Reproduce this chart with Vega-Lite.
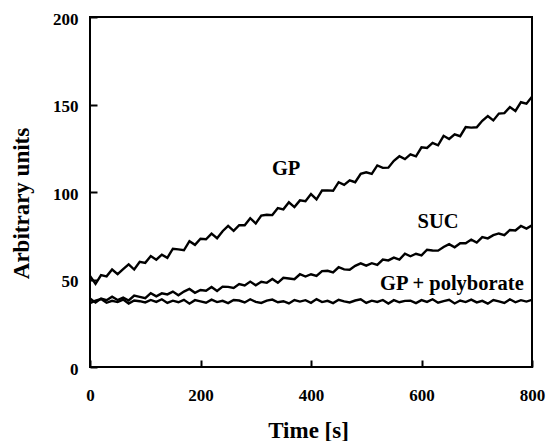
{
  "$schema": "https://vega.github.io/schema/vega-lite/v6.json",
  "width": 442,
  "height": 350,
  "autosize": "none",
  "padding": {"left": 90, "top": 17, "right": 14, "bottom": 74},
  "background": "white",
  "config": {
    "font": "Liberation Serif",
    "view": {"stroke": "black", "strokeWidth": 2}
  },
  "layer": [
    {
      "data": {
        "values": [
          {"t": 0, "GP": 52.0, "SUC": 39.1, "PB": 36.5},
          {"t": 10, "GP": 47.5, "SUC": 36.8, "PB": 37.9},
          {"t": 20, "GP": 52.5, "SUC": 39.1, "PB": 38.8},
          {"t": 30, "GP": 51.8, "SUC": 38.2, "PB": 36.7},
          {"t": 40, "GP": 55.7, "SUC": 40.2, "PB": 37.8},
          {"t": 50, "GP": 53.1, "SUC": 38.3, "PB": 37.1},
          {"t": 60, "GP": 55.9, "SUC": 39.7, "PB": 38.5},
          {"t": 70, "GP": 58.6, "SUC": 38.0, "PB": 36.3},
          {"t": 80, "GP": 55.7, "SUC": 40.8, "PB": 38.0},
          {"t": 90, "GP": 60.1, "SUC": 40.1, "PB": 37.6},
          {"t": 100, "GP": 59.5, "SUC": 39.3, "PB": 36.9},
          {"t": 110, "GP": 63.4, "SUC": 42.2, "PB": 38.3},
          {"t": 120, "GP": 61.3, "SUC": 40.4, "PB": 37.2},
          {"t": 130, "GP": 64.2, "SUC": 42.1, "PB": 38.7},
          {"t": 140, "GP": 62.4, "SUC": 41.5, "PB": 36.6},
          {"t": 150, "GP": 67.6, "SUC": 43.1, "PB": 37.9},
          {"t": 160, "GP": 67.2, "SUC": 41.0, "PB": 37.0},
          {"t": 170, "GP": 66.7, "SUC": 43.1, "PB": 38.4},
          {"t": 180, "GP": 71.9, "SUC": 44.6, "PB": 36.2},
          {"t": 190, "GP": 69.8, "SUC": 42.4, "PB": 38.2},
          {"t": 200, "GP": 73.3, "SUC": 44.0, "PB": 37.5},
          {"t": 210, "GP": 73.0, "SUC": 43.6, "PB": 36.7},
          {"t": 220, "GP": 76.2, "SUC": 45.7, "PB": 38.5},
          {"t": 230, "GP": 73.6, "SUC": 43.4, "PB": 37.1},
          {"t": 240, "GP": 77.6, "SUC": 45.9, "PB": 37.8},
          {"t": 250, "GP": 80.6, "SUC": 45.8, "PB": 36.5},
          {"t": 260, "GP": 77.8, "SUC": 45.2, "PB": 38.3},
          {"t": 270, "GP": 81.0, "SUC": 47.4, "PB": 38.0},
          {"t": 280, "GP": 81.0, "SUC": 46.6, "PB": 36.9},
          {"t": 290, "GP": 85.0, "SUC": 48.8, "PB": 38.7},
          {"t": 300, "GP": 82.0, "SUC": 46.7, "PB": 37.2},
          {"t": 310, "GP": 86.5, "SUC": 48.7, "PB": 36.6},
          {"t": 320, "GP": 87.0, "SUC": 48.1, "PB": 37.9},
          {"t": 330, "GP": 86.8, "SUC": 50.3, "PB": 38.5},
          {"t": 340, "GP": 90.8, "SUC": 48.1, "PB": 37.0},
          {"t": 350, "GP": 90.1, "SUC": 51.0, "PB": 37.6},
          {"t": 360, "GP": 94.1, "SUC": 50.6, "PB": 36.3},
          {"t": 370, "GP": 91.4, "SUC": 50.2, "PB": 38.3},
          {"t": 380, "GP": 95.2, "SUC": 53.0, "PB": 37.4},
          {"t": 390, "GP": 94.7, "SUC": 51.7, "PB": 38.2},
          {"t": 400, "GP": 98.8, "SUC": 53.0, "PB": 36.7},
          {"t": 410, "GP": 95.8, "SUC": 52.0, "PB": 38.8},
          {"t": 420, "GP": 100.9, "SUC": 54.8, "PB": 37.1},
          {"t": 430, "GP": 100.9, "SUC": 55.0, "PB": 37.8},
          {"t": 440, "GP": 100.7, "SUC": 54.1, "PB": 36.5},
          {"t": 450, "GP": 105.6, "SUC": 57.0, "PB": 38.4},
          {"t": 460, "GP": 104.1, "SUC": 55.8, "PB": 37.5},
          {"t": 470, "GP": 106.7, "SUC": 55.6, "PB": 36.9},
          {"t": 480, "GP": 105.6, "SUC": 57.8, "PB": 38.0},
          {"t": 490, "GP": 110.4, "SUC": 59.2, "PB": 38.7},
          {"t": 500, "GP": 111.3, "SUC": 57.9, "PB": 36.6},
          {"t": 510, "GP": 110.4, "SUC": 59.3, "PB": 37.9},
          {"t": 520, "GP": 115.2, "SUC": 58.3, "PB": 37.2},
          {"t": 530, "GP": 113.8, "SUC": 61.4, "PB": 38.3},
          {"t": 540, "GP": 113.9, "SUC": 60.9, "PB": 36.3},
          {"t": 550, "GP": 117.8, "SUC": 62.5, "PB": 38.2},
          {"t": 560, "GP": 120.4, "SUC": 61.4, "PB": 37.0},
          {"t": 570, "GP": 118.8, "SUC": 64.7, "PB": 37.8},
          {"t": 580, "GP": 121.5, "SUC": 63.3, "PB": 37.9},
          {"t": 590, "GP": 120.4, "SUC": 64.7, "PB": 36.5},
          {"t": 600, "GP": 125.5, "SUC": 63.8, "PB": 38.2},
          {"t": 610, "GP": 125.2, "SUC": 67.0, "PB": 37.2},
          {"t": 620, "GP": 128.1, "SUC": 66.6, "PB": 38.7},
          {"t": 630, "GP": 126.7, "SUC": 66.5, "PB": 36.7},
          {"t": 640, "GP": 132.1, "SUC": 68.6, "PB": 37.6},
          {"t": 650, "GP": 130.3, "SUC": 70.2, "PB": 38.4},
          {"t": 660, "GP": 133.0, "SUC": 68.4, "PB": 36.3},
          {"t": 670, "GP": 131.9, "SUC": 70.7, "PB": 38.0},
          {"t": 680, "GP": 137.1, "SUC": 70.7, "PB": 37.1},
          {"t": 690, "GP": 136.8, "SUC": 72.8, "PB": 38.5},
          {"t": 700, "GP": 137.0, "SUC": 71.1, "PB": 36.9},
          {"t": 710, "GP": 140.7, "SUC": 74.2, "PB": 37.8},
          {"t": 720, "GP": 143.4, "SUC": 73.5, "PB": 36.2},
          {"t": 730, "GP": 140.9, "SUC": 75.3, "PB": 38.3},
          {"t": 740, "GP": 144.8, "SUC": 76.3, "PB": 37.5},
          {"t": 750, "GP": 145.1, "SUC": 75.4, "PB": 36.6},
          {"t": 760, "GP": 148.5, "SUC": 78.3, "PB": 38.7},
          {"t": 770, "GP": 146.3, "SUC": 78.0, "PB": 37.0},
          {"t": 780, "GP": 151.3, "SUC": 80.6, "PB": 38.2},
          {"t": 790, "GP": 150.5, "SUC": 79.1, "PB": 37.4},
          {"t": 800, "GP": 154.5, "SUC": 81.0, "PB": 38.4}
        ]
      },
      "transform": [{"fold": ["GP", "SUC", "PB"], "as": ["series", "value"]}],
      "mark": {"type": "line", "color": "black", "strokeWidth": 2.4, "clip": true},
      "encoding": {
        "x": {
          "field": "t", "type": "quantitative",
          "scale": {"domain": [0, 800], "nice": false},
          "axis": {
            "title": "Time [s]",
            "values": [0, 200, 400, 600, 800],
            "domain": false,
            "grid": false,
            "zindex": 1,
            "ticks": true,
            "tickSize": -7,
            "tickColor": "black",
            "tickWidth": 2,
            "labelPadding": 27,
            "labelFlush": false,
            "labelColor": "black",
            "labelFont": "Liberation Serif",
            "labelFontWeight": "bold",
            "labelFontSize": 17,
            "titleColor": "black",
            "titleFont": "Liberation Serif",
            "titleFontWeight": "bold",
            "titleFontSize": 23,
            "titleX": 218,
            "titleY": 70,
            "titleBaseline": "alphabetic"
          }
        },
        "y": {
          "field": "value", "type": "quantitative",
          "scale": {"domain": [0, 200], "nice": false},
          "axis": {
            "title": "Arbitrary units",
            "values": [0, 50, 100, 150, 200],
            "domain": false,
            "grid": false,
            "zindex": 1,
            "ticks": true,
            "tickSize": -7,
            "tickColor": "black",
            "tickWidth": 2,
            "labelPadding": 19,
            "labelOffset": 2,
            "labelFlush": false,
            "labelColor": "black",
            "labelFont": "Liberation Serif",
            "labelFontWeight": "bold",
            "labelFontSize": 17,
            "titleColor": "black",
            "titleFont": "Liberation Serif",
            "titleFontWeight": "bold",
            "titleFontSize": 23,
            "titleX": -69,
            "titleY": 186,
            "titleBaseline": "middle"
          }
        },
        "detail": {"field": "series"}
      }
    },
    {
      "data": {
        "values": [
          {"t": 355, "v": 113.4, "label": "GP"},
          {"t": 630, "v": 83.0, "label": "SUC"},
          {"t": 655, "v": 47.5, "label": "GP + polyborate"}
        ]
      },
      "mark": {"type": "text", "font": "Liberation Serif", "fontWeight": "bold", "fontSize": 20.5, "color": "black", "baseline": "middle", "align": "center"},
      "encoding": {
        "x": {"field": "t", "type": "quantitative"},
        "y": {"field": "v", "type": "quantitative"},
        "text": {"field": "label"}
      }
    }
  ]
}
